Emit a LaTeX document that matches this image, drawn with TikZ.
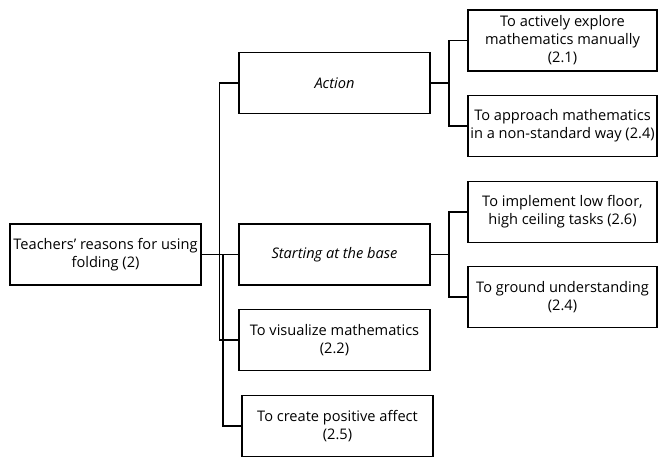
\documentclass[tikz,border=0pt]{standalone}
\usepackage{fontspec}
\setmainfont{Open Sans}
\usepackage{tikz}

\tikzset{
  box/.style={draw, line width=1.5pt, minimum width=191pt, minimum height=61pt,
    align=center, inner sep=0pt, font=\fontsize{14.6}{18}\selectfont},
  subbox/.style={box, minimum width=189pt},
  link/.style={line width=1.5pt}
}

\begin{document}
\begin{tikzpicture}[x=1pt,y=-1pt]
				\useasboundingbox (0,0) rectangle (658,457);
				\node[box] (reasons) at (105.5,254.5) {Teachers’ reasons for using\\folding (2)};
				\node[box] (action) at (334.5,83) {\textit{Action}};
				\node[box] (base) at (334.5,254.5) {\textit{Starting at the base}};
				\node[box] (visual) at (334.5,340) {To visualize mathematics\\(2.2)};
				\node[box] (affect) at (337.5,426) {To create positive affect\\(2.5)};
				\node[subbox] (explore) at (562.5,40.5) {To actively explore\\mathematics manually\\(2.1)};
				\node[subbox] (approach) at (562.5,126) {To approach mathematics\\in a non-standard way (2.4)};
				\node[subbox] (floor) at (562.5,212) {To implement low floor,\\high ceiling tasks (2.6)};
				\node[subbox] (ground) at (562.5,297) {To ground understanding\\(2.4)};
				% trunk
				\coordinate (trunk) at (223,254.5);
				\draw[link] (reasons.east) -- (base.west);
				\draw[link] (action.west) -- ++(-19,0) |- (visual.west);
				\draw[link] (trunk) |- (affect.west);
				% branches
				\coordinate (ja) at (449,83);
				\coordinate (jb) at (449,254.5);
				\draw[link] (action.east) -- (ja);
				\draw[link] (explore.west) -| (ja) |- (approach.west);
				\draw[link] (base.east) -- (jb);
				\draw[link] (floor.west) -| (jb) |- (ground.west);
		\end{tikzpicture}
\end{document}
